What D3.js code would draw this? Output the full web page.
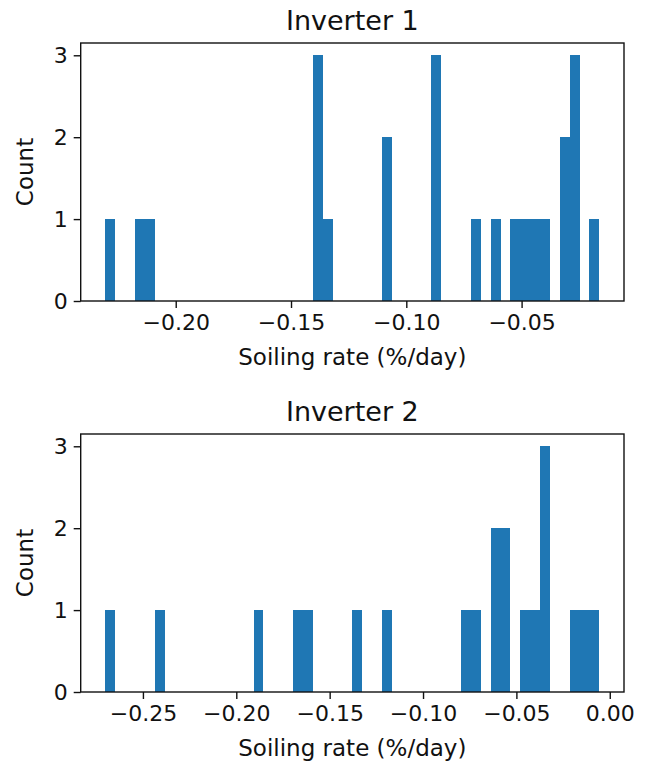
<!DOCTYPE html>
<html>
<head>
<meta charset="utf-8">
<script src="https://cdn.jsdelivr.net/npm/d3@7/dist/d3.min.js"></script>
<style>
  body { margin: 0; background: #fff; }
  svg text { font-family: "DejaVu Sans", sans-serif; fill: #111; }
</style>
</head>
<body>
<div id="chart"></div>
<script>
// soiling rates (%/day) per inverter
var inverter1 = [-0.2305, -0.2155, -0.2112, -0.1386, -0.1384, -0.1382, -0.1341,
  -0.1086, -0.1082, -0.0872, -0.0870, -0.0868, -0.0699, -0.0613, -0.0527,
  -0.0484, -0.0442, -0.0399, -0.0314, -0.0312, -0.0271, -0.0270, -0.0269, -0.0163]
var inverter2 = [-0.2701, -0.2410, -0.1881, -0.1669, -0.1616, -0.1352, -0.1193,
  -0.0770, -0.0717, -0.0612, -0.0610, -0.0559, -0.0557, -0.0452, -0.0399,
  -0.0348, -0.0347, -0.0346, -0.0188, -0.0135, -0.0056]
var titles = ["Inverter 1", "Inverter 2"]
var xLabel = "Soiling rate (%/day)"
var yLabel = "Count"
var nBins = 50
var yTicks = [0, 1, 2, 3]

var width = 650, height = 768
var left = 80.7, right = 624
var panelTops = [43, 434], panelH = 258

var svg = d3.select("#chart").append("svg")
  .attr("width", width)
  .attr("height", height)

function drawPanel(values, title, top) {
  var ext = d3.extent(values)
  var span = ext[1] - ext[0]
  var thresholds = d3.range(1, nBins).map(function (i) { return ext[0] + i * span / nBins })
  var bins = d3.bin().domain(ext).thresholds(thresholds)(values)

  var x = d3.scaleLinear()
    .domain([ext[0] - 0.05 * span, ext[1] + 0.05 * span])
    .range([left, right])
  var y = d3.scaleLinear()
    .domain([0, 3 * 1.05])
    .range([top + panelH, top])

  var g = svg.append("g")

  g.selectAll("rect.bar")
    .data(bins.filter(function (b) { return b.length > 0 }))
    .enter().append("rect")
    .attr("class", "bar")
    .attr("x", function (b) { return x(b.x0) })
    .attr("width", function (b) { return x(b.x1) - x(b.x0) })
    .attr("y", function (b) { return y(b.length) })
    .attr("height", function (b) { return y(0) - y(b.length) })
    .attr("fill", "#1f77b4")
    .attr("shape-rendering", "crispEdges")

  var xAxis = g.append("g")
    .attr("transform", "translate(0," + (top + panelH) + ")")
    .call(d3.axisBottom(x).ticks(5).tickFormat(d3.format(".2f")).tickSize(7).tickPadding(6))
  var yAxis = g.append("g")
    .attr("transform", "translate(" + left + ",0)")
    .call(d3.axisLeft(y).tickValues(yTicks).tickFormat(d3.format("d")).tickSize(7).tickPadding(6))

  ;[xAxis, yAxis].forEach(function (a) {
    a.select(".domain").remove()
    a.selectAll("line").attr("stroke", "#111").attr("stroke-width", 1.4)
    a.selectAll("text").attr("font-size", 22).attr("fill", "#111")
  })

  // frame
  g.append("rect")
    .attr("x", left).attr("y", top)
    .attr("width", right - left).attr("height", panelH)
    .attr("fill", "none").attr("stroke", "#111").attr("stroke-width", 1.4)

  g.append("text")
    .attr("x", (left + right) / 2).attr("y", top - 13)
    .attr("text-anchor", "middle").attr("font-size", 27)
    .text(title)

  g.append("text")
    .attr("x", (left + right) / 2).attr("y", top + panelH + 64)
    .attr("text-anchor", "middle").attr("font-size", 23)
    .text(xLabel)

  g.append("text")
    .attr("transform", "translate(33," + (top + panelH / 2) + ") rotate(-90)")
    .attr("text-anchor", "middle").attr("font-size", 23)
    .text(yLabel)
}

drawPanel(inverter1, titles[0], panelTops[0])
drawPanel(inverter2, titles[1], panelTops[1])
</script>
</body>
</html>
